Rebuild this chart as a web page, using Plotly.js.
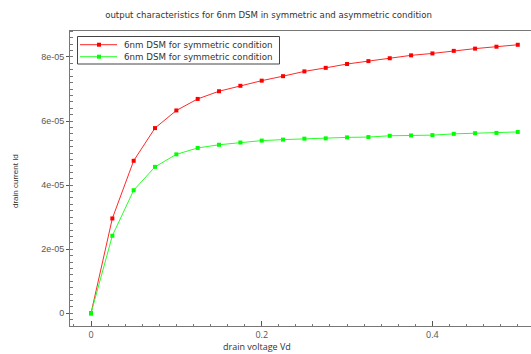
<!DOCTYPE html>
<html>
<head>
<meta charset="utf-8">
<script src="https://cdn.plot.ly/plotly-3.0.1.min.js"></script>
<style>html,body{margin:0;padding:0;background:#fff;}#chart{width:531px;height:354px;}</style>
</head>
<body>
<div id="chart"></div>
<script>
const vd = [0, 0.025, 0.05, 0.075, 0.1, 0.125, 0.15, 0.175, 0.2, 0.225, 0.25, 0.275, 0.3, 0.325, 0.35, 0.375, 0.4, 0.425, 0.45, 0.475, 0.5];
const idSym = [0, 2.96e-5, 4.76e-5, 5.78e-5, 6.33e-5, 6.69e-5, 6.93e-5, 7.10e-5, 7.26e-5, 7.40e-5, 7.55e-5, 7.66e-5, 7.78e-5, 7.87e-5, 7.96e-5, 8.05e-5, 8.11e-5, 8.19e-5, 8.26e-5, 8.32e-5, 8.38e-5];
const idAsym = [0, 2.42e-5, 3.84e-5, 4.57e-5, 4.96e-5, 5.16e-5, 5.26e-5, 5.33e-5, 5.39e-5, 5.42e-5, 5.45e-5, 5.46e-5, 5.49e-5, 5.50e-5, 5.54e-5, 5.55e-5, 5.56e-5, 5.60e-5, 5.62e-5, 5.63e-5, 5.66e-5];
const seriesNames = ["6nm DSM for symmetric condition", "6nm DSM for symmetric condition"];
const seriesColors = ["#ff0000", "#00ff00"];
const lineColors = ["#ff2828", "#28ff28"];
const yTickVals = [0, 2e-5, 4e-5, 6e-5, 8e-5];
const yTickText = ["0", "2e-05", "4e-05", "6e-05", "8e-05"];
const titleText = "output characteristics for 6nm DSM in symmetric and asymmetric condition";
const xTitle = "drain voltage Vd";
const yTitle = "drain current Id";

const FONT = "Liberation Sans, Arial, sans-serif";
const WIDE = "DejaVu Sans, Verdana, sans-serif";
const OPEN = "Open Sans, sans-serif";

const traces = seriesNames.map((n, i) => ({
  x: vd, y: i === 0 ? idSym : idAsym, name: n, mode: "lines+markers", type: "scatter", showlegend: false,
  line: {color: lineColors[i], width: 1}, marker: {color: seriesColors[i], size: 4, symbol: "square"}
}));

// custom compact legend (paper coordinates)
const W = 531, H = 354, L = 70, R = 0, T = 31, B = 28;
const pw = W - L - R, ph = H - T - B;
const px = v => (v - L) / pw;
const py = v => (H - B - v) / ph;
const shapes = [
  {type: "rect", xref: "paper", yref: "paper", x0: px(77.5), x1: px(279.5), y0: py(64), y1: py(36.5),
   line: {color: "#444", width: 1}, fillcolor: "#fff", layer: "above"}
];
const annotations = [];
const rowY = [44.7, 56.7];
seriesNames.forEach((n, i) => {
  shapes.push({type: "line", xref: "paper", yref: "paper", x0: px(80), x1: px(117), y0: py(rowY[i]), y1: py(rowY[i]),
               line: {color: lineColors[i], width: 1}, layer: "above"});
  shapes.push({type: "rect", xref: "paper", yref: "paper", x0: px(97), x1: px(101), y0: py(rowY[i] + 2), y1: py(rowY[i] - 2),
               line: {width: 0}, fillcolor: seriesColors[i], layer: "above"});
  annotations.push({text: n, xref: "paper", yref: "paper", x: px(122), y: py(rowY[i]), xanchor: "left", yanchor: "middle",
                    showarrow: false, font: {family: WIDE, size: 8.7, color: "#333"}});
});
annotations.push({text: xTitle, xref: "paper", yref: "paper", x: px(257), y: py(346.5), xanchor: "center", yanchor: "middle",
                  showarrow: false, font: {family: OPEN, size: 9, color: "#333"}});
annotations.push({text: yTitle, xref: "paper", yref: "paper", x: px(15), y: py(181), xanchor: "center", yanchor: "middle",
                  showarrow: false, textangle: -90, font: {family: FONT, size: 8, color: "#333"}});

const layout = {
  width: W, height: H,
  margin: {l: L, r: R, t: T, b: B},
  paper_bgcolor: "#fff", plot_bgcolor: "#fff",
  font: {family: FONT, size: 8, color: "#444"},
  title: {text: titleText, x: 268.5 / W, xref: "container", y: 1 - 15 / H, yref: "container", yanchor: "middle", xanchor: "center",
          font: {family: WIDE, size: 8.6, color: "#333"}},
  showlegend: false,
  xaxis: {range: [-0.0246, 0.5155], showgrid: false, zeroline: false, showline: true, linecolor: "#777", linewidth: 1, mirror: true,
          ticks: "inside", ticklen: 5, tickcolor: "#555", dtick: 0.2, tick0: 0,
          tickfont: {family: OPEN, size: 9, color: "#555"},
          minor: {dtick: 0.02, tick0: 0, ticks: "inside", ticklen: 2, tickcolor: "#777"}},
  yaxis: {range: [-3.96e-6, 8.81e-5], showgrid: false, zeroline: false, showline: true, linecolor: "#777", linewidth: 1,
          ticks: "outside", ticklen: 3, tickcolor: "#555", tickmode: "array", tickvals: yTickVals, ticktext: yTickText,
          tickfont: {family: FONT, size: 9, color: "#555"},
          minor: {dtick: 2e-6, tick0: 0, ticks: "inside", ticklen: 3, tickcolor: "#777"}},
  shapes: shapes,
  annotations: annotations
};
Plotly.newPlot("chart", traces, layout, {displayModeBar: false, staticPlot: true});
</script>
</body>
</html>
